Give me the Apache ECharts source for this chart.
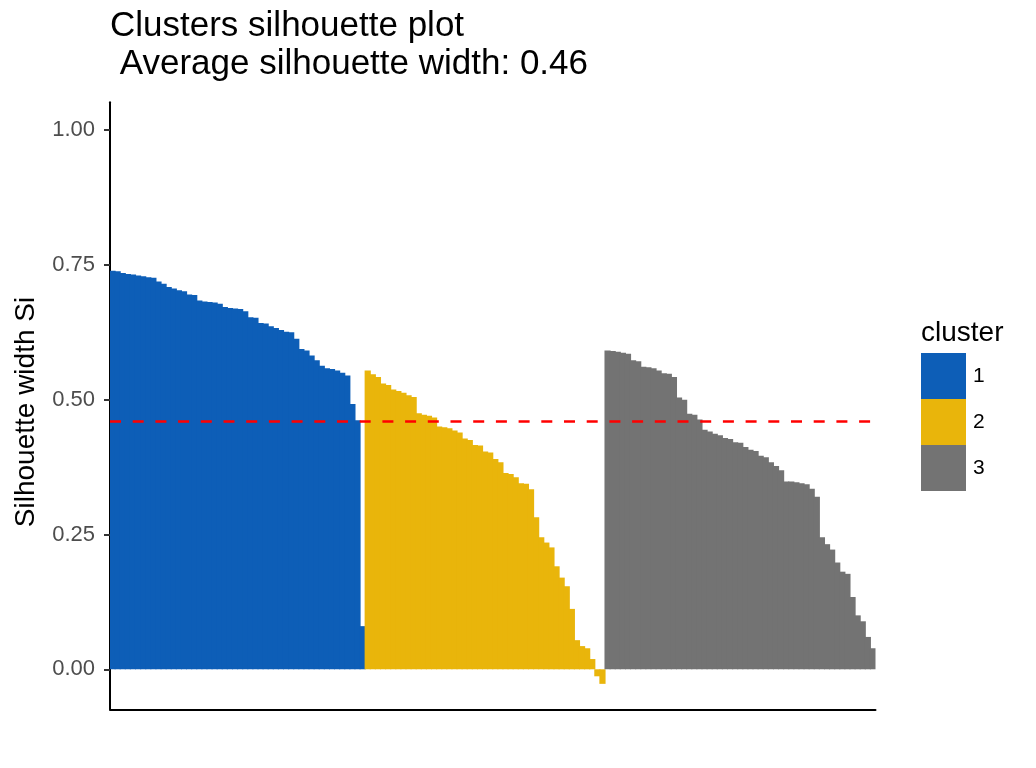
<!DOCTYPE html>
<html>
<head>
<meta charset="utf-8">
<script src="https://cdn.jsdelivr.net/npm/echarts@6/dist/echarts.min.js"></script>
<style>
html,body{margin:0;padding:0;background:#fff;}
#chart{width:1036px;height:768px;}
</style>
</head>
<body>
<div id="chart"></div>
<script>
// Silhouette widths per cluster (sorted)
const cluster1 = [0.739, 0.738, 0.735, 0.733, 0.732, 0.730, 0.729, 0.727, 0.726, 0.719,
  0.715, 0.709, 0.706, 0.703, 0.701, 0.695, 0.694, 0.684, 0.682, 0.681,
  0.680, 0.678, 0.672, 0.670, 0.669, 0.668, 0.664, 0.653, 0.652, 0.642,
  0.641, 0.636, 0.633, 0.629, 0.626, 0.625, 0.613, 0.594, 0.591, 0.582,
  0.573, 0.563, 0.558, 0.557, 0.554, 0.550, 0.545, 0.492, 0.462, 0.080];
const cluster2 = [0.554, 0.547, 0.542, 0.530, 0.527, 0.519, 0.516, 0.513, 0.508, 0.505,
  0.475, 0.472, 0.470, 0.467, 0.450, 0.449, 0.447, 0.443, 0.439, 0.428,
  0.425, 0.416, 0.415, 0.404, 0.402, 0.390, 0.384, 0.364, 0.362, 0.356,
  0.345, 0.344, 0.334, 0.282, 0.245, 0.235, 0.226, 0.191, 0.170, 0.154,
  0.112, 0.054, 0.043, 0.039, 0.019, -0.013, -0.027];
const cluster3 = [0.591, 0.590, 0.589, 0.587, 0.585, 0.573, 0.571, 0.561, 0.560, 0.558,
  0.554, 0.549, 0.548, 0.542, 0.504, 0.500, 0.474, 0.472, 0.463, 0.444,
  0.441, 0.437, 0.434, 0.429, 0.427, 0.421, 0.420, 0.412, 0.407, 0.405,
  0.396, 0.393, 0.384, 0.377, 0.369, 0.348, 0.348, 0.347, 0.345, 0.343,
  0.335, 0.320, 0.245, 0.232, 0.222, 0.198, 0.181, 0.177, 0.134, 0.100,
  0.089, 0.060, 0.039];
const clusterNames = ['1', '2', '3'];
const avgWidth = 0.46;
const yTicks = [0, 0.25, 0.5, 0.75, 1.0];

const colors = ['#0D5EB7', '#E9B50B', '#737373'];
const FONT = '"Liberation Sans", Arial, Helvetica, sans-serif';

const clusters = [cluster1, cluster2, cluster3];
const total = clusters.reduce((a, c) => a + c.length, 0);
const categories = [];
for (let i = 1; i <= total; i++) categories.push(String(i));

let offset = 0;
const series = clusters.map((vals, ci) => {
  const data = new Array(total).fill('-');
  vals.forEach((v, j) => { data[offset + j] = v; });
  offset += vals.length;
  const s = {
    type: 'bar',
    name: clusterNames[ci],
    data: data,
    barWidth: 6.2,
    barGap: '-100%',
    itemStyle: { color: colors[ci] },
    emphasis: { disabled: true },
    animation: false
  };
  if (ci === clusters.length - 1) {
    s.markLine = {
      silent: true,
      symbol: ['none', 'none'],
      label: { show: false },
      lineStyle: { color: '#FF0000', width: 2.7, type: [11, 11.7], opacity: 1 },
      emphasis: { disabled: true },
      data: [{ yAxis: avgWidth }]
    };
  }
  return s;
});

const chart = echarts.init(document.getElementById('chart'), null, { renderer: 'canvas' });
chart.setOption({
  backgroundColor: '#fff',
  animation: false,
  textStyle: { fontFamily: FONT },
  title: {
    text: 'Clusters silhouette plot\n Average silhouette width: 0.46',
    left: 110,
    top: 8,
    padding: 0,
    textStyle: { fontFamily: FONT, fontSize: 35, fontWeight: 'normal', color: '#000', lineHeight: 37.5 }
  },
  legend: {
    data: clusterNames,
    orient: 'vertical',
    left: 921,
    top: 353,
    padding: 0,
    itemWidth: 45,
    itemHeight: 46,
    itemGap: 0,
    icon: 'rect',
    selectedMode: false,
    itemStyle: { borderWidth: 0 },
    textStyle: { fontFamily: FONT, fontSize: 21, color: '#000', padding: [0, 0, 0, 2] }
  },
  graphic: [{
    type: 'text',
    left: 921,
    top: 319,
    style: { text: 'cluster', font: '28px ' + FONT, fill: '#000' }
  }, {
    type: 'text',
    x: 26,
    y: 412,
    rotation: Math.PI / 2,
    style: { text: 'Silhouette width Si', font: '28px ' + FONT, fill: '#000', align: 'center', verticalAlign: 'middle' }
  }],
  grid: { left: 110, right: 160.5, top: 102.3, bottom: 58.7, containLabel: false },
  xAxis: {
    type: 'category',
    data: categories,
    boundaryGap: true,
    axisLine: { onZero: false, lineStyle: { color: '#000', width: 2 } },
    axisTick: { show: false },
    axisLabel: { show: false },
    splitLine: { show: false }
  },
  yAxis: {
    type: 'value',
    min: -0.0742,
    max: 1.0514,
    axisLine: { show: true, lineStyle: { color: '#000', width: 2 } },
    axisTick: { show: true, customValues: yTicks, length: 6, lineStyle: { color: '#333', width: 2 } },
    axisLabel: {
      customValues: yTicks,
      formatter: v => Number(v).toFixed(2),
      fontFamily: FONT, fontSize: 22, color: '#4D4D4D', margin: 15
    },
    splitLine: { show: false }
  },
  series: series
});
</script>
</body>
</html>
